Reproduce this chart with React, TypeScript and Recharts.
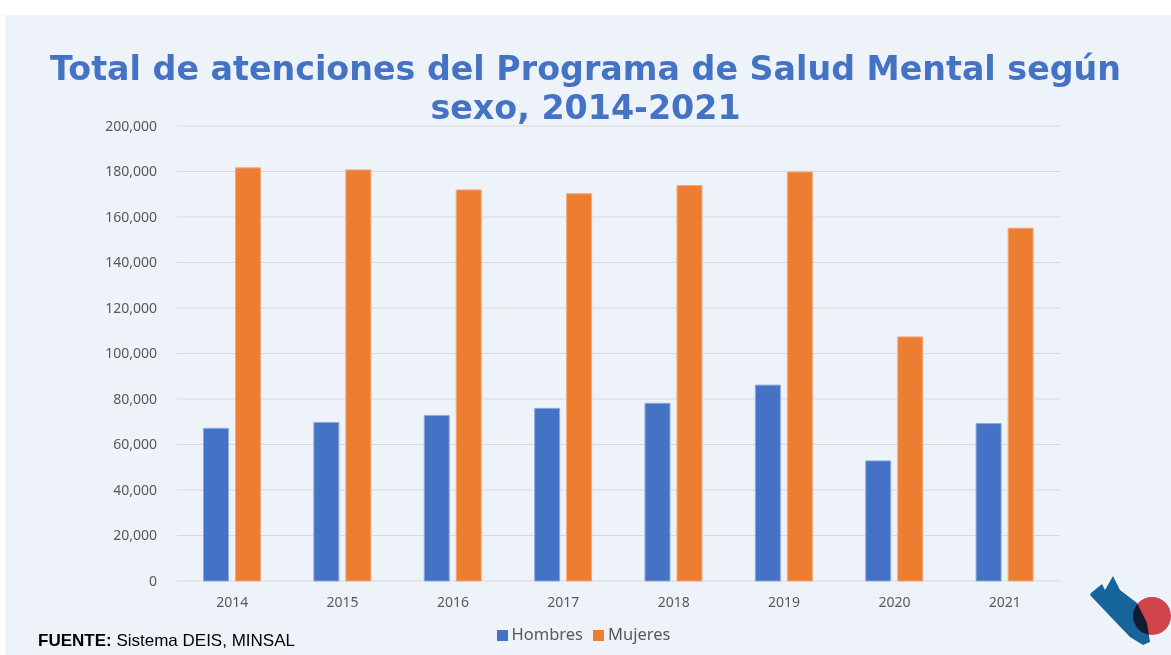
import { Bar, BarChart, CartesianGrid, Legend, XAxis, YAxis } from 'recharts';

const years = ['2014', '2015', '2016', '2017', '2018', '2019', '2020', '2021'];
const hombres = [67100, 69700, 72800, 75900, 78100, 86100, 52800, 69200];
const mujeres = [181600, 180700, 171900, 170200, 173800, 179800, 107300, 155100];
const yTicks = [0, 20000, 40000, 60000, 80000, 100000, 120000, 140000, 160000, 180000, 200000];

const data = years.map((year, i) => ({ year, Hombres: hombres[i], Mujeres: mujeres[i] }));

const tickStyle = { fill: '#595959', fontSize: 14, fontFamily: 'Noto Sans' };

export default function App() {
  return (
    <div
      style={{
        position: 'absolute',
        top: 0,
        left: 0,
        width: 1171,
        height: 655,
        background: '#fff',
        overflow: 'hidden',
      }}
    >
      <div
        style={{
          position: 'absolute',
          top: 15,
          left: 5,
          width: 1166,
          height: 640,
          background: '#EEF3FA',
        }}
      />
      <div
        style={{
          position: 'absolute',
          top: 49,
          left: 0,
          width: 1171,
          textAlign: 'center',
          color: '#4472C4',
          fontFamily: 'DejaVu Sans',
          fontWeight: 'bold',
          fontSize: 33.3,
          lineHeight: '39px',
        }}
      >
        Total de atenciones del Programa de Salud Mental según
        <br />
        sexo, 2014-2021
      </div>
      <div style={{ position: 'absolute', top: 0, left: 0 }}>
        <BarChart
          width={1171}
          height={655}
          data={data}
          margin={{ top: 126, right: 111, left: 117, bottom: 21 }}
          barCategoryGap="24%"
          barGap={7}
        >
          <CartesianGrid vertical={false} stroke="#D9D9D9" />
          <XAxis
            dataKey="year"
            axisLine={false}
            tickLine={false}
            tick={tickStyle}
            tickMargin={10}
            height={30}
          />
          <YAxis
            width={60}
            domain={[0, 200000]}
            ticks={yTicks}
            axisLine={false}
            tickLine={false}
            tick={tickStyle}
            tickMargin={14}
            tickFormatter={(v: number) => v.toLocaleString('en-US')}
          />
          <Legend
            iconType="square"
            iconSize={11}
            wrapperStyle={{ top: 622, fontFamily: 'Noto Sans', fontSize: 16.5 }}
            formatter={(value) => <span style={{ color: '#595959' }}>{value}</span>}
          />
          <Bar dataKey="Hombres" fill="#4472C4" stroke="#8FA9DC" strokeWidth={1} isAnimationActive={false} />
          <Bar dataKey="Mujeres" fill="#ED7D31" stroke="#F3A878" strokeWidth={1} isAnimationActive={false} />
        </BarChart>
      </div>
      <div
        style={{
          position: 'absolute',
          top: 631,
          left: 38,
          fontFamily: 'Liberation Sans',
          fontSize: 17,
          color: '#000',
        }}
      >
        <b>FUENTE:</b> Sistema DEIS, MINSAL
      </div>
      <svg style={{ position: 'absolute', top: 0, left: 0 }} width={1171} height={655}>
        <polygon
          points="1091,593 1102,584 1105,590 1113,576 1120,590 1137,603 1147,623 1150,642 1143,645 1130,637 1107,613 1090,595"
          fill="#15649A"
        />
        <circle cx={1152} cy={616} r={19} fill="#E0474C" style={{ mixBlendMode: 'multiply' }} />
      </svg>
    </div>
  );
}
